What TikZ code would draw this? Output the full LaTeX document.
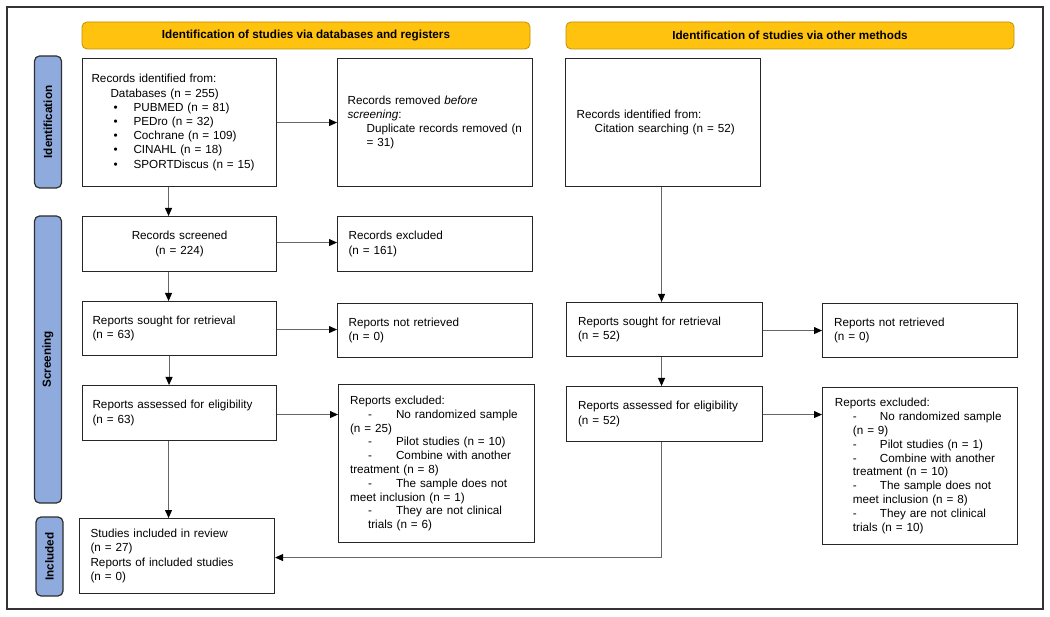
\documentclass[tikz,border=0pt]{standalone}
\usepackage{fontspec}
\setmainfont{Liberation Sans}
\usetikzlibrary{arrows.meta}
\definecolor{hdrfill}{HTML}{FFC20E}
\definecolor{hdrline}{HTML}{BF9000}
\definecolor{phfill}{HTML}{8FAADC}
\definecolor{phline}{HTML}{2E2E2E}
\definecolor{boxline}{HTML}{262626}
\definecolor{linkc}{HTML}{666666}
\definecolor{framec}{HTML}{333333}
\newcommand{\bodyfont}{\fontsize{11.7}{14.2}\selectfont}
\newcommand{\exfont}{\fontsize{11.7}{13.8}\selectfont}
\newcommand{\dsh}[1]{\hspace*{18pt}\makebox[#1][l]{-}}
\newcommand{\blt}{\hspace*{22pt}\makebox[20pt][l]{•}}
\tikzset{
  box/.style={draw=boxline, line width=1.1pt, fill=white, anchor=north west,
    inner ysep=0pt, align=left, font=\bodyfont},
  hdr/.style={draw=hdrline, fill=hdrfill, line width=0.8pt, rounded corners=5pt,
    font=\bfseries\bodyfont, minimum height=27pt, minimum width=448pt, inner sep=0pt},
  phase/.style={draw=phline, fill=phfill, line width=1.2pt, rounded corners=5pt,
    rotate=90, font=\bfseries\bodyfont, minimum height=27pt, inner sep=0pt},
  arr/.style={draw=linkc, line width=0.9pt,
    -{Triangle[length=8pt,width=7pt,color=black]}},
}
\begin{document}
\begin{tikzpicture}[x=1pt,y=-1pt]
\useasboundingbox (0,0) rectangle (1050,617);
\draw[framec, line width=1.2pt] (7,7) rectangle (1043,609);

% headers
\node[hdr] (H1) at (306,35.5) {Identification of studies via databases and registers};
\node[hdr] (H2) at (790,35.5) {Identification of studies via other methods};

% phase labels
\node[phase, minimum width=132pt] (P1) at (48,122) {Identification};
\node[phase, minimum width=287pt] (P2) at (48,359.5) {Screening};
\node[phase, minimum width=79pt, minimum height=27pt] (P3) at (49.5,556.5) {Included};

% left column
\node[box, inner xsep=9pt, text width=176pt, minimum height=128pt] (A) at (82,58)
  {Records identified from:\\
   \hspace*{19pt}Databases (n = 255)\\
   \blt PUBMED (n = 81)\\
   \blt PEDro (n = 32)\\
   \blt Cochrane (n = 109)\\
   \blt CINAHL (n = 18)\\
   \blt SPORTDiscus (n = 15)};
\node[box, inner xsep=10pt, text width=175pt, minimum height=128pt] (B) at (337,58)
  {Records removed \textit{before}\\
   \textit{screening}:\\
   \hspace*{19pt}Duplicate records removed (n\\
   \hspace*{19pt}= 31)};
\node[box, inner xsep=9pt, text width=176pt, minimum height=55pt, align=center] (S) at (82,216)
  {Records screened\\(n = 224)};
\node[box, inner xsep=11pt, text width=173pt, minimum height=55pt] (E) at (337,216)
  {Records excluded\\(n = 161)};
\node[box, inner xsep=10pt, text width=174pt, minimum height=54pt] (SL) at (82,301)
  {Reports sought for retrieval\\(n = 63)};
\node[box, inner xsep=11pt, text width=173pt, minimum height=54pt] (NL) at (337,303)
  {Reports not retrieved\\(n = 0)};
\node[box, inner xsep=10pt, text width=174pt, minimum height=55pt] (AL) at (82,385)
  {Reports assessed for eligibility\\(n = 63)};
\node[box, inner xsep=11.5pt, text width=173pt, minimum height=158pt, font=\exfont] (XL) at (338,384)
  {Reports excluded:\\
   \dsh{28pt}No randomized sample\\
   (n = 25)\\
   \dsh{28pt}Pilot studies (n = 10)\\
   \dsh{28pt}Combine with another\\
   treatment (n = 8)\\
   \dsh{28pt}The sample does not\\
   meet inclusion (n = 1)\\
   \dsh{28pt}They are not clinical\\
   \hspace*{18pt}trials (n = 6)};
\node[box, inner xsep=11pt, text width=173pt, minimum height=75pt] (I) at (79,518)
  {Studies included in review\\(n = 27)\\Reports of included studies\\(n = 0)};

% right column
\node[box, inner xsep=11pt, text width=173pt, minimum height=128pt] (C) at (565,58)
  {Records identified from:\\
   \hspace*{18pt}Citation searching (n = 52)};
\node[box, inner xsep=11.5pt, text width=173pt, minimum height=54pt] (SR) at (566,302)
  {Reports sought for retrieval\\(n = 52)};
\node[box, inner xsep=11.5pt, text width=172pt, minimum height=54pt] (NR) at (822,303)
  {Reports not retrieved\\(n = 0)};
\node[box, inner xsep=11.5pt, text width=173pt, minimum height=55pt] (AR) at (566,386)
  {Reports assessed for eligibility\\(n = 52)};
\node[box, inner xsep=12.4pt, text width=170pt, minimum height=157pt, font=\exfont] (XR) at (822,387)
  {Reports excluded:\\
   \dsh{27pt}No randomized sample\\
   \hspace*{18pt}(n = 9)\\
   \dsh{27pt}Pilot studies (n = 1)\\
   \dsh{27pt}Combine with another\\
   \hspace*{18pt}treatment (n = 10)\\
   \dsh{27pt}The sample does not\\
   \hspace*{18pt}meet inclusion (n = 8)\\
   \dsh{27pt}They are not clinical\\
   \hspace*{18pt}trials (n = 10)};

% connectors left
\draw[arr] ([xshift=-11pt]A.south) -- ([xshift=-11pt]S.north);
\draw[arr] (A.east) -- (B.west);
\draw[arr] ([xshift=-11pt]S.south) -- ([xshift=-11pt]SL.north);
\draw[arr] ([yshift=1.5pt]S.east) -- ([yshift=1.5pt]S.east -| E.west);
\draw[arr] ([xshift=-10.5pt]SL.south) -- ([xshift=-10.5pt]AL.north);
\draw[arr] ([yshift=-1pt]SL.east) -- ([yshift=-1pt]SL.east -| NL.west);
\draw[arr] ([yshift=-1.5pt]AL.east) -- ([yshift=-1.5pt]AL.east -| XL.west);
\draw[arr] ([xshift=-11pt]AL.south) -- ([xshift=-11pt]AL.south |- I.north);

% connectors right
\draw[arr] ([xshift=-1.5pt]C.south) -- ([xshift=-1.5pt]C.south |- SR.north);
\draw[arr] ([xshift=-3pt]SR.south) -- ([xshift=-3pt]AR.north);
\draw[arr] ([yshift=-1pt]SR.east) -- ([yshift=-1pt]SR.east -| NR.west);
\draw[arr] ([yshift=-0.5pt]AR.east) -- ([yshift=-0.5pt]AR.east -| XR.west);
\draw[arr] ([xshift=-3pt]AR.south) |- ([yshift=-1.5pt]I.east);
\end{tikzpicture}
\end{document}
